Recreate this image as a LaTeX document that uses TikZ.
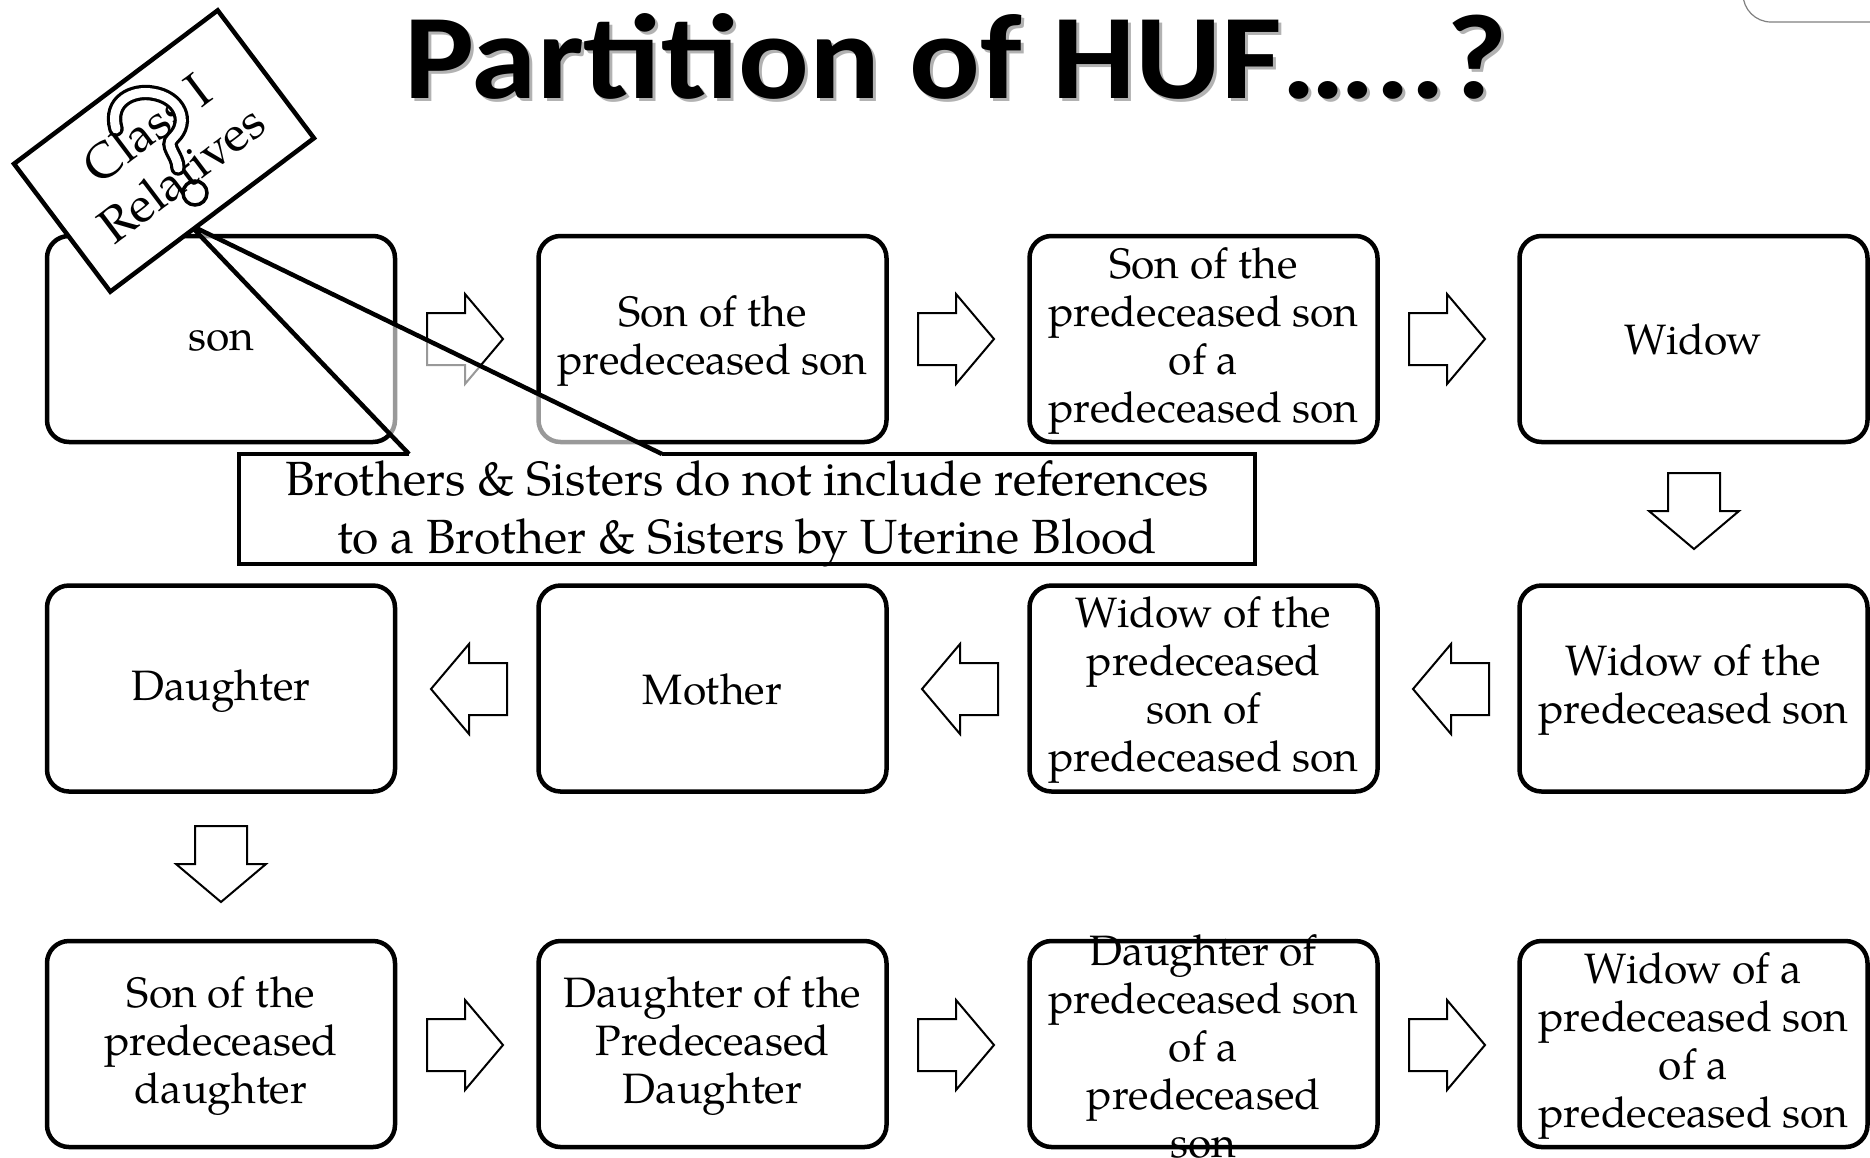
\documentclass[tikz,border=0pt]{standalone}
\usepackage{fontspec}
\usepackage{graphicx}
\setmainfont{TeX Gyre Pagella}
\newfontfamily\titlefont{Carlito}
\tikzset{
  box/.style={draw, line width=4.5pt, rounded corners=22pt, fill=white, minimum width=348pt, minimum height=206pt, inner sep=0pt},
  txt/.style={align=center, font=\fontsize{42.5}{48}\selectfont, inner sep=0pt},
  blk/.style={draw, line width=2pt, fill=white, line join=miter},
  barrow/.pic={\draw[blk] (-38,-26) -- (0,-26) -- (0,-45) -- (38,0) -- (0,45) -- (0,26) -- (-38,26) -- cycle;},
  tagbox/.style={draw, line width=4.5pt, fill=white, minimum width=255pt, minimum height=160pt, inner sep=0pt, align=center, font=\fontsize{49}{57}\selectfont},
  qmark/.style={draw, line width=3.2pt, double=white, double distance=9pt, line cap=round},
  callout/.style={line width=4.5pt, line join=miter},
}
\begin{document}
\begin{tikzpicture}[x=1pt, y=-1pt]
\useasboundingbox (0,0) rectangle (1870,1157);
\fill[white] (0,0) rectangle (1870,1157);
% top-right partial shape
\draw[gray, line width=1.2pt, rounded corners=28pt] (1743,-40) -- (1743,22) -- (1900,22);
% title
\node[anchor=base west, inner sep=0pt, text=gray!60] (titleshadow) at (407,101) {\resizebox{1103pt}{85pt}{\titlefont\bfseries Partition of HUF…..?}};
\node[anchor=base west, inner sep=0pt] (title) at (404,98) {\resizebox{1103pt}{85pt}{\titlefont\bfseries Partition of HUF…..?}};
% boxes
\node[box] (b11) at (221,339) {};
\node[box] (b12) at (712.5,339) {};
\node[box] (b13) at (1203.5,339) {};
\node[box] (b14) at (1693.5,339) {};
\node[box] (b21) at (221,688.5) {};
\node[box] (b22) at (712.5,688.5) {};
\node[box] (b23) at (1203.5,688.5) {};
\node[box] (b24) at (1693.5,688.5) {};
\node[box] (b31) at (221,1044) {};
\node[box] (b32) at (712.5,1044) {};
\node[box] (b33) at (1203.5,1044) {};
\node[box] (b34) at (1693.5,1044) {};
% texts
\node[txt] (t11) at (221,341) {son};
\node[txt] (t12) at (712.5,341) {Son of the\\predeceased son};
\node[txt] (t13) at (1203.5,341) {Son of the\\predeceased son\\of a\\predeceased son};
\node[txt] (t14) at (1693.5,339) {Widow};
\node[txt] (t21) at (221,691) {Daughter};
\node[txt] (t22) at (712.5,689) {Mother};
\node[txt] (t23) at (1203.5,690) {Widow of the\\predeceased\\son of\\predeceased son};
\node[txt] (t24) at (1693.5,690) {Widow of the\\predeceased son};
\node[txt] (t31) at (221,1046) {Son of the\\predeceased\\daughter};
\node[txt] (t32) at (712.5,1046) {Daughter of the\\Predeceased\\Daughter};
\node[txt] (t33) at (1203.5,1046) {Daughter of\\predeceased son\\of a\\predeceased\\son};
\node[txt] (t34) at (1693.5,1046) {Widow of a\\predeceased son\\of a\\predeceased son};
% block arrows
\pic (a1) at (465,339) {barrow};
\pic (a2) at (956,339) {barrow};
\pic (a3) at (1447,339) {barrow};
\pic[rotate=-90] (a4) at (1694,511) {barrow};
\pic[rotate=180] (a5) at (1451,689) {barrow};
\pic[rotate=180] (a6) at (960,689) {barrow};
\pic[rotate=180] (a7) at (469,689) {barrow};
\pic[rotate=-90] (a8) at (221,864) {barrow};
\pic (a9) at (465,1045) {barrow};
\pic (a10) at (956,1045) {barrow};
\pic (a11) at (1447,1045) {barrow};
% callout box
\coordinate (apex) at (190,225);
\coordinate (wl) at (409,454);
\coordinate (wr) at (662,454);
\fill[white] (239,454) rectangle (1255,564);
\fill[white, fill opacity=0.6] (apex) -- (wl) -- (wr) -- cycle;
\draw[callout] (wl) -- (239,454) -- (239,564) -- (1255,564) -- (1255,454) -- (wr);
\draw[callout] (wl) -- (apex) -- (wr);
\node[align=center, inner sep=0pt, font=\fontsize{48}{58}\selectfont] (note) at (747,514) {Brothers \& Sisters do not include references\\to a Brother \& Sisters by Uterine Blood};
% tag
\node[tagbox, rotate=37] (tag) at (164,151) {Class I\\Relatives};
\draw[qmark] (116,129) .. controls (108,100) and (134,90) .. (152,93) .. controls (180,97) and (190,122) .. (173,138) .. controls (164,146) and (178,155) .. (178,168);
\draw[line width=3.5pt] (195,193) circle (12);
\end{tikzpicture}
\end{document}
